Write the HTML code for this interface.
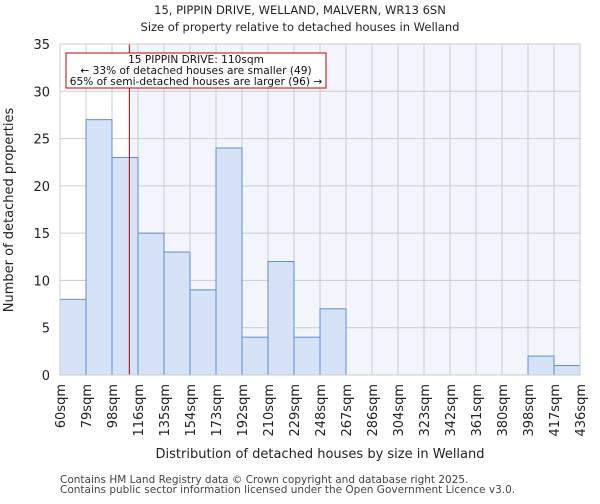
<!DOCTYPE html>
<html><head><meta charset="utf-8"><style>
body{margin:0;background:#fff;font-family:"DejaVu Sans","Liberation Sans",sans-serif}
svg text{font-family:"DejaVu Sans","Liberation Sans",sans-serif}
</style></head><body>
<svg id="c" width="600" height="500"></svg>
<script>
const bins=["60sqm","79sqm","98sqm","116sqm","135sqm","154sqm","173sqm","192sqm","210sqm","229sqm","248sqm","267sqm","286sqm","304sqm","323sqm","342sqm","361sqm","380sqm","398sqm","417sqm","436sqm"];
const binStart=[60,79,98,116,135,154,173,192,210,229,248,267,286,304,323,342,361,380,398,417];
const counts=[8,27,23,15,13,9,24,4,12,4,7,0,0,0,0,0,0,0,2,1];
const yTicks=[0,5,10,15,20,25,30,35];
const propertySize=110;
const NS="http://www.w3.org/2000/svg",svg=document.getElementById('c');
const L=60,R=580,T=44,B=375,ymax=35,n=counts.length,bw=(R-L)/n;
const x=i=>L+i*bw, y=v=>B-v/ymax*(B-T);
function px(s){let i=0;while(i<n-1&&binStart[i+1]<=s)i++;const e=i+1<n?binStart[i+1]:436;return x(i)+(s-binStart[i])/(e-binStart[i])*bw;}
function el(t,a,p){const e=document.createElementNS(NS,t);for(const k in a)e.setAttribute(k,a[k]);(p||svg).appendChild(e);return e;}
const lx=px(propertySize);
const shade=el('rect',{x:lx,y:T,width:R-lx,height:B-T,fill:'#f2f5fc'});


for(let i=0;i<=n;i++){const g=el('line',{x1:x(i),x2:x(i),y1:T,y2:B,stroke:'#cccccc','stroke-width':1});

}
yTicks.forEach(v=>{const g=el('line',{x1:L,x2:R,y1:y(v),y2:y(v),stroke:'#cccccc','stroke-width':1});


const t=el('text',{x:L-10,y:y(v)+5,'text-anchor':'end','font-size':13,fill:'#222'});t.textContent=v;

});
counts.forEach((c,i)=>{if(!c)return;const r=el('rect',{x:x(i),y:y(c),width:bw,height:B-y(c),fill:'#d6e2f5',stroke:'#5b8ed8','stroke-width':1});

});
bins.forEach((b,i)=>{const t=el('text',{transform:`translate(${x(i)+5},384) rotate(-90)`,'text-anchor':'end','font-size':13,fill:'#222'});t.textContent=b;

});
const pl=el('line',{x1:lx,x2:lx,y1:T,y2:B,stroke:'#aa0000','stroke-width':1});


const box=el('rect',{x:66,y:53,width:260,height:35,fill:'#fff',stroke:'#cc0000','stroke-width':1});


["15 PIPPIN DRIVE: 110sqm","← 33% of detached houses are smaller (49)","65% of semi-detached houses are larger (96) →"].forEach((s,k)=>{const t=el('text',{x:196,y:63+k*11,'text-anchor':'middle','font-size':10.6,fill:'#111'});t.textContent=s;

});
const ax=el('rect',{x:L,y:T,width:R-L,height:B-T,fill:'none',stroke:'#cccccc'});


[["15, PIPPIN DRIVE, WELLAND, MALVERN, WR13 6SN",14,'chart-title'],["Size of property relative to detached houses in Welland",31,'chart-subtitle']].forEach(([s,yy,nm])=>{const t=el('text',{x:300,y:yy,'text-anchor':'middle','font-size':11.5,fill:'#222'});t.textContent=s;

});
const xt=el('text',{x:320,y:458,'text-anchor':'middle','font-size':13,fill:'#222'});xt.textContent="Distribution of detached houses by size in Welland";


const yt=el('text',{transform:'translate(13,210) rotate(-90)','text-anchor':'middle','font-size':13,fill:'#222'});yt.textContent="Number of detached properties";


["Contains HM Land Registry data © Crown copyright and database right 2025.","Contains public sector information licensed under the Open Government Licence v3.0."].forEach((s,k)=>{const t=el('text',{x:60,y:483+k*10,'font-size':10.5,fill:'#444'});t.textContent=s;

});
</script>
</body></html>
